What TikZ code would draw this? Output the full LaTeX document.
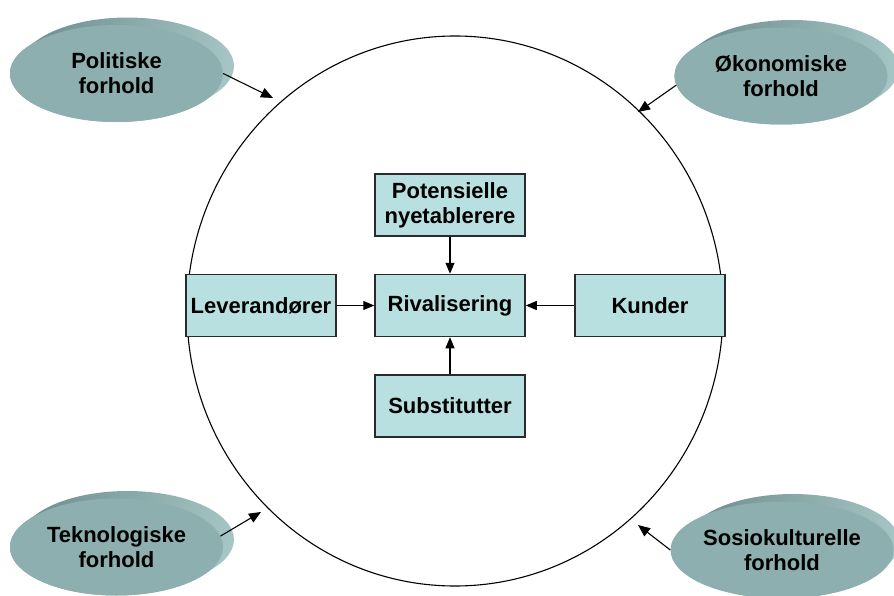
\documentclass[tikz,border=0pt]{standalone}
\usepackage{fontspec}
\setmainfont{Liberation Sans}
\usetikzlibrary{shapes.geometric,arrows.meta}

\definecolor{facefill}{HTML}{8EAFAF}
\definecolor{sidedark}{HTML}{6C8A8A}
\definecolor{sidelight}{HTML}{A8C8C8}
\definecolor{boxfill}{HTML}{B9E0E1}
\definecolor{boxline}{HTML}{2B2B2B}

% extruded body behind an elliptic disc centred at (#1,#2)
\newcommand\discbody[2]{%
  \begin{scope}
    \clip \foreach \k in {0,...,11} {(#1+\k,#2-0.68*\k) ellipse [x radius=106.5, y radius=48.5]};
    \shade[left color=sidedark, right color=sidelight, shading angle=75]
      (#1-120,#2-70) rectangle (#1+130,#2+60);
  \end{scope}}

\tikzset{
  x=1pt, y=-1pt,
  txt/.style={font=\bfseries\fontsize{22}{25}\selectfont, align=center, text=black},
  disc/.style={txt, ellipse, fill=facefill, minimum width=213pt, minimum height=97pt, inner sep=0pt},
  force/.style={txt, rectangle, fill=boxfill, draw=boxline, line width=1.5pt,
                minimum width=150pt, minimum height=62pt, inner sep=0pt},
  ring/.style={ellipse, draw=black, line width=1.1pt, minimum width=536pt, minimum height=550pt, inner sep=0pt},
  inarrow/.style={draw=black, line width=1.1pt, -{Triangle[length=12pt,width=10pt]}},
  boxarrow/.style={draw=black, line width=1.2pt, -{Triangle[length=11pt,width=9pt]}}
}

\begin{document}
\begin{tikzpicture}
  \useasboundingbox (0,0) rectangle (894,596);
  \clip (0,0) rectangle (894,596);
  \fill[white] (0,0) rectangle (894,596);

  % industry environment
  \node[ring] (ring) at (455,311) {};

  % macro factors
  \discbody{116.5}{73.5}
  \node[disc] (pol) at (116.5,73.5) {Politiske\\forhold};
  \discbody{781}{76}
  \node[disc] (oko) at (781,76) {Økonomiske\\forhold};
  \discbody{116.5}{547}
  \node[disc] (tek) at (116.5,547) {Teknologiske\\forhold};
  \discbody{782}{550}
  \node[disc] (sos) at (782,550) {Sosiokulturelle\\forhold};

  \coordinate (tpol) at (273,98);
  \coordinate (toko) at (638,112);
  \coordinate (ttek) at (261,512);
  \coordinate (tsos) at (638,525);

  \draw[inarrow] (pol.east) -- (tpol);
  \draw[inarrow] (oko.185) -- (toko);
  \draw[inarrow] (tek.6) -- (ttek);
  \draw[inarrow] (sos.west) -- (tsos);

  % five forces
  \node[force] (riv) at (450,305.5) {Rivalisering};
  \node[force] (pot) at (450,205) {Potensielle\\nyetablerere};
  \node[force] (sub) at (450,406) {Substitutter};
  \node[force] (lev) at (261,305.5) {Leverandører};
  \node[force] (kun) at (650,305.5) {Kunder};

  \draw[boxarrow] (pot.south) -- (riv.north);
  \draw[boxarrow] (sub.north) -- (riv.south);
  \draw[boxarrow] (lev.east) -- (riv.west);
  \draw[boxarrow] (kun.west) -- (riv.east);
\end{tikzpicture}
\end{document}
